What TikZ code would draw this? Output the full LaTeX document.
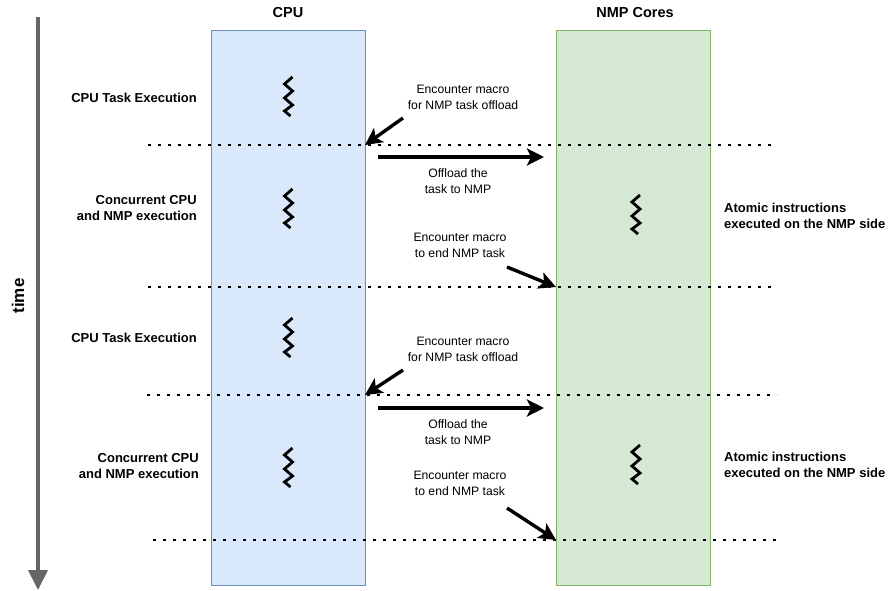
\documentclass[tikz,border=0pt]{standalone}
\usepackage{fontspec}
\setmainfont{Liberation Sans}
\usetikzlibrary{arrows.meta}
\definecolor{cpufill}{HTML}{DAE8FC}
\definecolor{cpudraw}{HTML}{6C8EBF}
\definecolor{nmpfill}{HTML}{D5E8D4}
\definecolor{nmpdraw}{HTML}{82B366}
\definecolor{timegray}{HTML}{666666}
\tikzset{
  txt/.style={font=\fontsize{12.2}{16}\selectfont, align=center, inner sep=0pt},
  btxt/.style={font=\fontsize{13}{16.5}\selectfont\bfseries, inner sep=0pt},
  htxt/.style={font=\fontsize{14.5}{17}\selectfont\bfseries, inner sep=0pt},
  lane/.style={minimum width=154pt, minimum height=555pt, inner sep=0pt, anchor=north west},
  dotline/.style={line width=2.8pt, dash pattern=on 2.8pt off 7.2pt},
  bigarrow/.style={line width=3.4pt, -{Stealth[length=17pt,width=17pt,inset=4pt]}},
  zig/.style={line width=2.8pt, line join=miter, line cap=butt},
}
\begin{document}
\begin{tikzpicture}[x=1pt,y=-1pt]
\useasboundingbox (0,0) rectangle (888,591);
% time axis
\coordinate (tstart) at (38,17);
\coordinate (tend) at (38,590);
\draw[timegray, line width=4pt, -{Triangle[length=20pt,width=19pt]}] (tstart) -- (tend);
\node[font=\fontsize{17}{20}\selectfont\bfseries, inner sep=0pt, rotate=90] (time) at (18,296) {time};
% lanes
\node[lane, fill=cpufill, draw=cpudraw] (cpu) at (211,30) {};
\node[lane, fill=nmpfill, draw=nmpdraw] (nmp) at (556,30) {};
\node[htxt] (cpulbl) at (288,13) {CPU};
\node[htxt] (nmplbl) at (635,13) {NMP Cores};
% dotted lines
\coordinate (d1a) at (148,145); \coordinate (d1b) at (777,145);
\coordinate (d2a) at (148,287); \coordinate (d2b) at (777,287);
\coordinate (d3a) at (147,395); \coordinate (d3b) at (777,395);
\coordinate (d4a) at (153,540); \coordinate (d4b) at (782,540);
\draw[dotline] (d1a) -- (d1b);
\draw[dotline] (d2a) -- (d2b);
\draw[dotline] (d3a) -- (d3b);
\draw[dotline] (d4a) -- (d4b);
% zigzags
\foreach \zx/\zy in {288.5/77, 288.5/189, 288.5/318, 288.5/448, 636/195, 636/445}{
  \draw[zig] (\zx+4,\zy) -- (\zx-4,\zy+7) -- (\zx+4,\zy+14) -- (\zx-4,\zy+21) -- (\zx+4,\zy+28) -- (\zx-4,\zy+34) -- (\zx+2,\zy+39);
}
% left labels
\node[btxt, anchor=east] (l1) at (197,98) {CPU Task Execution};
\node[btxt, anchor=east, align=right] (l2) at (197,208) {Concurrent CPU\\and NMP execution};
\node[btxt, anchor=east] (l3) at (197,338) {CPU Task Execution};
\node[btxt, anchor=east, align=right] (l4) at (199,466) {Concurrent CPU\\and NMP execution};
% right labels
\node[btxt, anchor=west, align=left] (r1) at (724,216) {Atomic instructions\\executed on the NMP side};
\node[btxt, anchor=west, align=left] (r2) at (724,465) {Atomic instructions\\executed on the NMP side};
% first cycle
\node[txt] (e1) at (463,97) {Encounter macro\\for NMP task offload};
\coordinate (e1s) at (403,118); \coordinate (e1t) at (365,145);
\draw[bigarrow] (e1s) -- (e1t);
\coordinate (o1s) at (378,157); \coordinate (o1t) at (544,157);
\draw[bigarrow] (o1s) -- (o1t);
\node[txt] (o1) at (458,181) {Offload the\\task to NMP};
\node[txt] (n1) at (460,245) {Encounter macro\\to end NMP task};
\coordinate (n1s) at (507,267); \coordinate (n1t) at (556,287);
\draw[bigarrow] (n1s) -- (n1t);
% second cycle
\node[txt] (e2) at (463,349) {Encounter macro\\for NMP task offload};
\coordinate (e2s) at (403,370); \coordinate (e2t) at (365,395);
\draw[bigarrow] (e2s) -- (e2t);
\coordinate (o2s) at (378,408); \coordinate (o2t) at (544,408);
\draw[bigarrow] (o2s) -- (o2t);
\node[txt] (o2) at (458,432) {Offload the\\task to NMP};
\node[txt] (n2) at (460,483) {Encounter macro\\to end NMP task};
\coordinate (n2s) at (507,508); \coordinate (n2t) at (556,540);
\draw[bigarrow] (n2s) -- (n2t);
\end{tikzpicture}
\end{document}
